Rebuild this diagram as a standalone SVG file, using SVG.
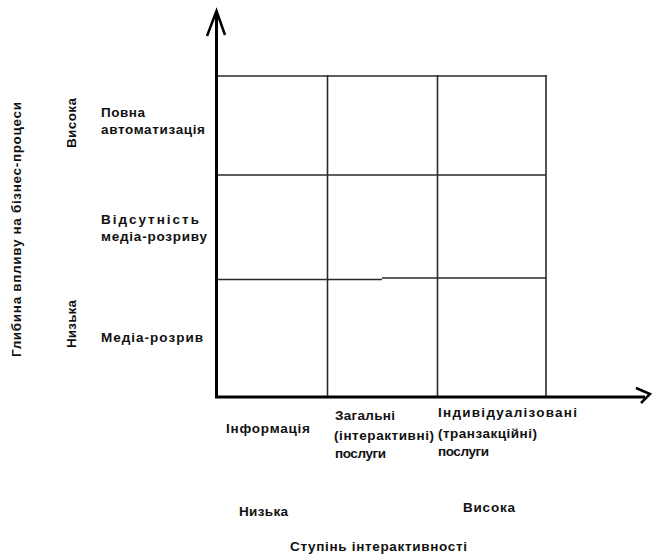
<svg xmlns="http://www.w3.org/2000/svg" width="652" height="555" viewBox="0 0 652 555">
  <style>
    .lbl { font-family: "Liberation Sans", Arial, sans-serif; font-weight: bold; font-size: 13.5px; fill: #111; }
    .axis { stroke: #000; stroke-width: 3; fill: none; stroke-linecap: butt; }
    .head { stroke: #000; stroke-width: 2.5; fill: none; stroke-linejoin: miter; }
    .grid { stroke: #2a2a2a; stroke-width: 1.6; fill: none; }
  </style>
  <rect width="652" height="555" fill="#fff"/>

  <!-- matrix cells -->
  <g id="grid" class="grid">
    <line x1="216" y1="76" x2="546" y2="76"/>
    <line x1="216" y1="175" x2="546" y2="175"/>
    <line x1="216" y1="279.5" x2="382" y2="279.5"/>
    <line x1="382" y1="278" x2="546" y2="278"/>
    <line x1="327.5" y1="75" x2="327.5" y2="397"/>
    <line x1="437.5" y1="75" x2="437.5" y2="397"/>
    <line x1="546" y1="75" x2="546" y2="397"/>
  </g>

  <!-- axes with open arrowheads -->
  <g id="connectors">
    <line class="axis" x1="216.5" y1="12" x2="216.5" y2="398"/>
    <polyline class="head" points="207,36 216.5,11 225,35"/>
    <line class="axis" x1="215" y1="397" x2="645" y2="397"/>
    <polyline class="head" points="636,388 650,394 641,403"/>
  </g>

  <!-- vertical axis title and scale -->
  <g id="y-title">
    <text class="lbl" transform="translate(21,357) rotate(-90)" textLength="255" lengthAdjust="spacing">Глибина впливу на бізнес-процеси</text>
  </g>
  <g id="y-high">
    <text class="lbl" transform="translate(76,148) rotate(-90)" textLength="50" lengthAdjust="spacing">Висока</text>
  </g>
  <g id="y-low">
    <text class="lbl" transform="translate(76,348) rotate(-90)" textLength="48" lengthAdjust="spacing">Низька</text>
  </g>

  <!-- row labels -->
  <g id="row-full-automation">
    <text class="lbl" x="101" y="117" textLength="44" lengthAdjust="spacing">Повна</text>
    <text class="lbl" x="101" y="134" textLength="104" lengthAdjust="spacing">автоматизація</text>
  </g>
  <g id="row-no-media-break">
    <text class="lbl" x="101" y="224" textLength="98" lengthAdjust="spacing">Відсутність</text>
    <text class="lbl" x="101" y="241" textLength="106" lengthAdjust="spacing">медіа-розриву</text>
  </g>
  <g id="row-media-break">
    <text class="lbl" x="101" y="342" textLength="102" lengthAdjust="spacing">Медіа-розрив</text>
  </g>

  <!-- column labels -->
  <g id="col-information">
    <text class="lbl" x="226" y="433" textLength="84" lengthAdjust="spacing">Інформація</text>
  </g>
  <g id="col-general">
    <text class="lbl" x="335" y="420" textLength="60" lengthAdjust="spacing">Загальні</text>
    <text class="lbl" x="334" y="440" textLength="100" lengthAdjust="spacing">(інтерактивні)</text>
    <text class="lbl" x="335" y="458" textLength="51" lengthAdjust="spacing">послуги</text>
  </g>
  <g id="col-individual">
    <text class="lbl" x="438" y="417" textLength="139" lengthAdjust="spacing">Індивідуалізовані</text>
    <text class="lbl" x="438" y="438" textLength="99" lengthAdjust="spacing">(транзакційні)</text>
    <text class="lbl" x="438" y="456" textLength="51" lengthAdjust="spacing">послуги</text>
  </g>

  <!-- horizontal axis scale and title -->
  <g id="x-low">
    <text class="lbl" x="239" y="516" textLength="49" lengthAdjust="spacing">Низька</text>
  </g>
  <g id="x-high">
    <text class="lbl" x="463" y="512" textLength="52" lengthAdjust="spacing">Висока</text>
  </g>
  <g id="x-title">
    <text class="lbl" x="290" y="551" textLength="177" lengthAdjust="spacing">Ступінь інтерактивності</text>
  </g>
</svg>
